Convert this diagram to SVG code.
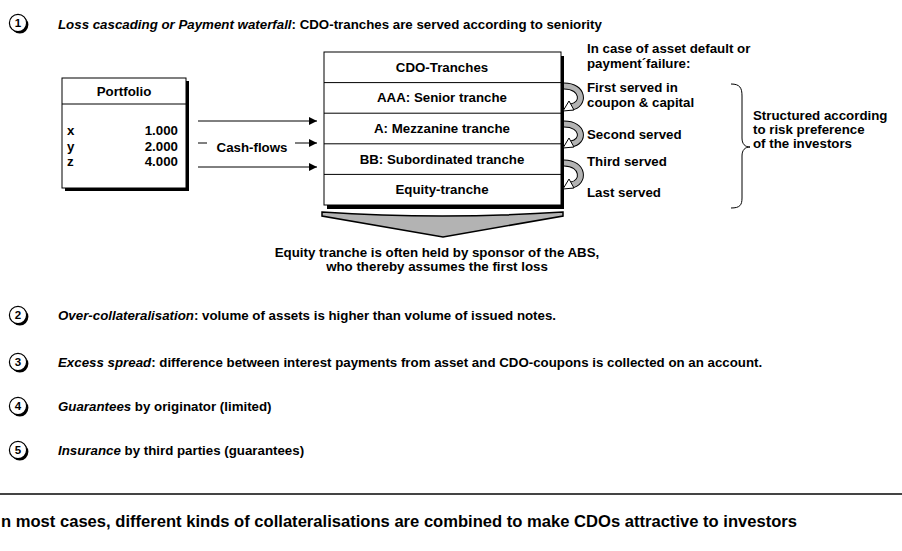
<svg xmlns="http://www.w3.org/2000/svg" width="902" height="551" viewBox="0 0 902 551">
<defs>
<style>
text{font-family:"Liberation Sans",Arial,sans-serif;font-weight:bold;font-size:13.3px;fill:#000}
.c{text-anchor:middle}
.r{text-anchor:end}
.i{font-style:italic}
.num{font-size:11.5px;text-anchor:middle}
.box{fill:#fff;stroke:#000;stroke-width:1}
.sh{fill:#000}
.ln{stroke:#000;stroke-width:1;fill:none}
.cb{fill:none;stroke:#000;stroke-width:7}
.cg{fill:none;stroke:#b3b3b3;stroke-width:5}
.ah{fill:#fff;stroke:#000;stroke-width:1}
</style>
<marker id="arr" viewBox="0 0 10 10" refX="10" refY="5" markerWidth="9" markerHeight="8" markerUnits="userSpaceOnUse" orient="auto">
<path d="M0,0 L10,5 L0,10 Z" fill="#000"/>
</marker>
<g id="circ">
<circle cx="1.8" cy="1.8" r="8.6" fill="#000"/>
<circle cx="0" cy="0" r="8.6" fill="#fff" stroke="#000" stroke-width="1.2"/>
</g>
</defs>
<rect width="902" height="551" fill="#fff"/>

<g id="item1">
<use href="#circ" x="18" y="23"/>
<text class="num" x="18" y="27">1</text>
<text x="58" y="29"><tspan class="i">Loss cascading or Payment waterfall</tspan>: CDO-tranches are served according to seniority</text>
</g>

<g id="portfolio">
<rect class="sh" x="65" y="81" width="124" height="110"/>
<rect class="box" x="62" y="78" width="124" height="110"/>
<line class="ln" x1="62" y1="104" x2="186" y2="104"/>
<text class="c" x="124" y="96">Portfolio</text>
<text x="67" y="135">x</text><text class="r" x="178" y="135">1.000</text>
<text x="67" y="151">y</text><text class="r" x="178" y="151">2.000</text>
<text x="67" y="166">z</text><text class="r" x="178" y="166">4.000</text>
</g>

<g id="connectors">
<line class="ln" x1="198" y1="121" x2="317" y2="121" marker-end="url(#arr)"/>
<line class="ln" x1="198" y1="143" x2="207" y2="143"/>
<line class="ln" x1="295" y1="143" x2="317" y2="143" marker-end="url(#arr)"/>
<line class="ln" x1="198" y1="167" x2="317" y2="167" marker-end="url(#arr)"/>
<text class="c" x="252" y="152">Cash-flows</text>
</g>

<g id="cdo">
<rect class="sh" x="327" y="56" width="237" height="153"/>
<rect class="box" x="324" y="52" width="237" height="153"/>
<line class="ln" x1="324" y1="82.6" x2="561" y2="82.6"/>
<line class="ln" x1="324" y1="113.2" x2="561" y2="113.2"/>
<line class="ln" x1="324" y1="143.8" x2="561" y2="143.8"/>
<line class="ln" x1="324" y1="174.4" x2="561" y2="174.4"/>
<text class="c" x="442" y="72">CDO-Tranches</text>
<text class="c" x="442" y="102">AAA: Senior tranche</text>
<text class="c" x="442" y="133">A: Mezzanine tranche</text>
<text class="c" x="442" y="164">BB: Subordinated tranche</text>
<text class="c" x="442" y="194">Equity-tranche</text>
</g>

<g id="loops">
<path class="cb" d="M564,86 C584,86 585,105 571,107"/>
<path class="cg" d="M564,86 C584,86 585,105 571,107"/>
<path class="ah" d="M563,111 L569,101 L574,110 Z"/>
<path class="cb" d="M564,124 C584,124 585,142 571,144"/>
<path class="cg" d="M564,124 C584,124 585,142 571,144"/>
<path class="ah" d="M563,148 L569,138 L574,147 Z"/>
<path class="cb" d="M564,163 C584,163 585,183 571,185"/>
<path class="cg" d="M564,163 C584,163 585,183 571,185"/>
<path class="ah" d="M563,189 L569,179 L574,188 Z"/>
</g>

<g id="labels">
<text x="587" y="53">In case of asset default or</text>
<text x="587" y="68">payment´failure:</text>
<text x="587" y="92">First served in</text>
<text x="587" y="107">coupon &amp; capital</text>
<text x="587" y="139">Second served</text>
<text x="587" y="166">Third served</text>
<text x="587" y="197">Last served</text>
</g>

<g id="brace">
<path class="ln" d="M731,84 C740,84 742,88 742,96 L742,138 C742,144 745,147 750,147 C745,147 742,150 742,156 L742,198 C742,205 740,208 731,208"/>
<text x="753" y="120">Structured according</text>
<text x="753" y="134">to risk preference</text>
<text x="753" y="148">of the investors</text>
</g>

<g id="equity-arrow">
<path d="M322,212 Q442,220 563,212 L563,216 L443,237 L322,216 Z" fill="#b3b3b3" stroke="#000" stroke-width="1.5"/>
<text class="c" x="437" y="257">Equity tranche is often held by sponsor of the ABS,</text>
<text class="c" x="437" y="271">who thereby assumes the first loss</text>
</g>

<g id="item2">
<use href="#circ" x="18" y="315"/>
<text class="num" x="18" y="319">2</text>
<text x="58" y="320"><tspan class="i">Over-collateralisation</tspan>: volume of assets is higher than volume of issued notes.</text>
</g>
<g id="item3">
<use href="#circ" x="18" y="362"/>
<text class="num" x="18" y="366">3</text>
<text x="58" y="367"><tspan class="i">Excess spread</tspan>: difference between interest payments from asset and CDO-coupons is collected on an account.</text>
</g>
<g id="item4">
<use href="#circ" x="18" y="406"/>
<text class="num" x="18" y="410">4</text>
<text x="58" y="411"><tspan class="i">Guarantees</tspan> by originator (limited)</text>
</g>
<g id="item5">
<use href="#circ" x="18" y="450"/>
<text class="num" x="18" y="454">5</text>
<text x="58" y="455"><tspan class="i">Insurance</tspan> by third parties (guarantees)</text>
</g>

<line x1="0" y1="494" x2="902" y2="494" stroke="#444" stroke-width="2"/>
<text x="1" y="527" style="font-size:17px" textLength="796" lengthAdjust="spacingAndGlyphs">n most cases, different kinds of collateralisations are combined to make CDOs attractive to investors</text>
</svg>
